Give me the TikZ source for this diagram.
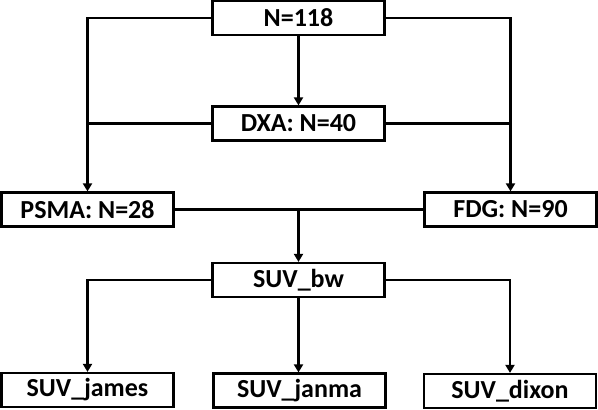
\documentclass[tikz,border=0pt]{standalone}
\usepackage{fontspec}
\setmainfont{Carlito}
\usetikzlibrary{arrows.meta}
\begin{document}
\begin{tikzpicture}[x=1pt,y=-1pt,
  box/.style={draw=black,line width=2.2pt,minimum width=172pt,minimum height=34pt,inner sep=0pt,font=\fontsize{26}{30}\selectfont\bfseries,fill=white},
  conn/.style={line width=2.1pt,draw=black},
  arr/.style={conn,-{Triangle[length=8pt,width=9pt]}}]
\useasboundingbox (0,0) rectangle (598,410);
\node[box] (n118) at (298.5,18) {N=118};
\node[box] (dxa) at (298.5,123.5) {DXA: N=40};
\node[box] (psma) at (87.5,209.5) {PSMA: N=28};
\node[box] (fdg) at (510.5,209.5) {FDG: N=90};
\node[box] (bw) at (298.5,280) {SUV\_bw};
\node[box] (james) at (87.5,390) {SUV\_james};
\node[box] (janma) at (299.5,390.5) {SUV\_janma};
\node[box] (dixon) at (510,391) {SUV\_dixon};
\coordinate (mid) at (298.5,209.5);
\draw[arr] (n118.west) -| (psma.north);
\draw[arr] (n118.east) -| (fdg.north);
\draw[arr] (n118.south) -- (dxa.north);
\draw[conn] (dxa.west) -- (dxa.west -| psma.north);
\draw[conn] (dxa.east) -- (dxa.east -| fdg.north);
\draw[conn] (psma.east) -- (fdg.west);
\draw[arr] (mid) -- (bw.north);
\draw[arr] (bw.west) -| (james.north);
\draw[arr] (bw.south) -- (bw.south |- janma.north);
\draw[arr] (bw.east) -| (dixon.north);
\end{tikzpicture}
\end{document}
